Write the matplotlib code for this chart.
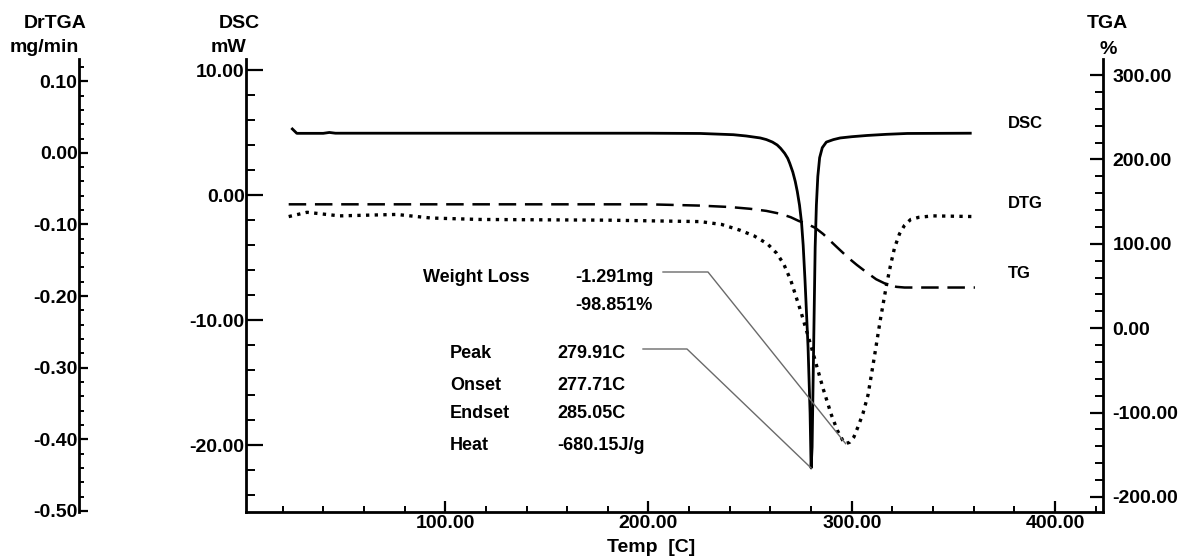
#!/usr/bin/env python3
"""
Curvas de análise térmica (DSC / TG / DTG) com três eixos verticais.
Gera out.png (1181x559).
"""

import matplotlib
matplotlib.use( "Agg" )
import matplotlib.pyplot as plt
from matplotlib.ticker import MultipleLocator, FormatStrFormatter
from matplotlib.lines import Line2D

plt.rcParams[ "font.family" ] = [ "Liberation Sans", "DejaVu Sans" ]
plt.rcParams[ "font.weight" ] = "bold"

# ── Dados ─────────────────────────────────────────────────────────────────
dsc_temp = [ 24.8, 27, 40, 43, 46, 100, 150, 200, 225.5, 241.8, 248, 255, 258, 261, 263.3,
             265, 267, 268.5, 269.5, 271, 272.2, 273.2, 274.3, 275.3, 276.1, 277, 278.5,
             279.5, 280, 280.5, 281, 281.5, 282, 282.6, 283.3, 284.2, 285.5, 287.5, 291,
             294.3, 300, 307.6, 317, 327.3, 358.3 ]
dsc_mw = [ 5.3, 4.95, 4.95, 5.02, 4.96, 4.96, 4.96, 4.96, 4.94, 4.84, 4.74, 4.58, 4.45, 4.25,
           4.02, 3.75, 3.35, 2.95, 2.55, 1.85, 1.1, 0.3, -0.8, -2.2, -4.0, -6.8, -12.16,
           -17.44, -21.84, -20.16, -14.8, -9.44, -4.16, -0.8, 1.5, 3.0, 3.8, 4.25, 4.45,
           4.58, 4.68, 4.78, 4.87, 4.94, 4.96 ]

tg_temp = [ 23, 100, 200, 225, 240, 250, 258, 265, 270, 274, 278, 282, 286, 289, 292.5,
            295.6, 299, 302.5, 307.4, 312, 317.3, 322, 326, 360.6 ]
tg_pct = [ 146.8, 146.8, 146.8, 145.3, 143.6, 141.5, 139.0, 135.5, 131.5, 127.0, 123.5,
           119.0, 111.5, 104.5, 96.5, 89.5, 82.0, 75.0, 66.0, 58.0, 51.8, 49.0, 48.2, 48.2 ]

dtg_temp = [ 23, 32, 48, 76, 93, 117, 180, 225.5, 236, 245, 252, 258.5, 263, 266.5, 270,
             275, 280, 286, 290, 293, 295.5, 297, 299, 301, 303, 305.5, 308, 311, 314,
             317, 319, 321, 323.5, 326, 329, 333, 340, 360.6 ]
dtg_rate = [ -0.089, -0.083, -0.088, -0.086, -0.091, -0.093, -0.094, -0.096, -0.100, -0.108,
             -0.116, -0.127, -0.140, -0.155, -0.178, -0.222, -0.270, -0.330, -0.366, -0.388,
             -0.401, -0.406, -0.404, -0.397, -0.383, -0.364, -0.338, -0.287, -0.234, -0.186,
             -0.158, -0.133, -0.113, -0.101, -0.093, -0.090, -0.088, -0.089 ]

curve_labels = [ "DSC", "DTG", "TG" ]
result_names = [ "Peak", "Onset", "Endset", "Heat" ]
result_values = [ "279.91C", "277.71C", "285.05C", "-680.15J/g" ]
weight_loss = [ "-1.291mg", "-98.851%" ]

# ── Layout (pixels da imagem) ─────────────────────────────────────────────
W, H = 1181, 559
AX_L, AX_R, AX_T, AX_B = 246, 1103, 59, 512
DTG_SPINE_X = 79
FS = 14
FS_NOTE = 13
LEADER = "#6a6a6a"


def fxy( x, y ):
    """pixel (origem no topo) -> fração da figura"""
    return x / W, 1 - y / H


def style_axis( axis, major, minor, length, pad ):
    axis.set_major_locator( MultipleLocator( major ) )
    axis.set_minor_locator( MultipleLocator( minor ) )
    axis.set_major_formatter( FormatStrFormatter( "%.2f" ) )
    axis.set_tick_params( which = "major", direction = "in", length = length[ 0 ], width = 1.6,
                          pad = pad, labelsize = FS )
    axis.set_tick_params( which = "minor", direction = "in", length = length[ 1 ], width = 1.4 )


fig = plt.figure( figsize = (W / 100, H / 100), dpi = 100 )
fig.patch.set_facecolor( "white" )
ax = fig.add_axes( [ AX_L / W, 1 - AX_B / H, (AX_R - AX_L) / W, (AX_B - AX_T) / H ] )
ax_tg = ax.twinx()
ax_dtg = ax.twinx()

# limites
ax.set_xlim( 2.0, 423.6 )
ax.set_ylim( -25.36, 10.9 )
ax_tg.set_ylim( -217.8, 319 )
ax_dtg.set_ylim( -0.5014, 0.131 )

# espinhas
for a in (ax, ax_tg, ax_dtg):
    for s in a.spines.values():
        s.set_visible( False )
        s.set_linewidth( 2.0 )
ax.spines[ "left" ].set_visible( True )
ax.spines[ "bottom" ].set_visible( True )
ax_tg.spines[ "right" ].set_visible( True )
ax_dtg.spines[ "left" ].set_visible( True )
ax_dtg.spines[ "left" ].set_position( ("axes", (DTG_SPINE_X - AX_L) / (AX_R - AX_L)) )
ax_dtg.yaxis.tick_left()
ax_dtg.yaxis.set_label_position( "left" )

style_axis( ax.xaxis, 100, 20, (8, 4.5), 2 )
style_axis( ax.yaxis, 10, 2, (12.5, 6.5), 1 )
style_axis( ax_tg.yaxis, 100, 20, (9.6, 5.5), 7 )
style_axis( ax_dtg.yaxis, 0.1, 0.02, (6.7, 3.6), 1 )

# curvas
ax.plot( dsc_temp, dsc_mw, color = "black", lw = 2.0, solid_joinstyle = "round" )
ax_tg.plot( tg_temp, tg_pct, color = "black", lw = 1.8, linestyle = (0, (7, 3.5)) )
ax_dtg.plot( dtg_temp, dtg_rate, color = "black", lw = 2.4, linestyle = (0, (1, 1.6)) )

# títulos dos eixos
for x, y, t in [ (55, 24, "DrTGA"), (44, 48, "mg/min"), (239, 24, "DSC"), (228, 48, "mW"),
                 (1107, 24, "TGA"), (1108, 49, "%") ]:
    fig.text( *fxy( x, y ), t, ha = "center", va = "center", fontsize = FS )
fig.text( *fxy( 651, 547 ), "Temp  [C]", ha = "center", va = "center", fontsize = FS )

# rótulos das curvas
for y, t in zip( [ 123, 204, 274 ], curve_labels ):
    fig.text( *fxy( 1008, y ), t, ha = "left", va = "center", fontsize = 12 )

# resultados
fig.text( *fxy( 423, 278 ), "Weight Loss", ha = "left", va = "center", fontsize = FS_NOTE )
for y, t in zip( [ 278, 305 ], weight_loss ):
    fig.text( *fxy( 575, y ), t, ha = "left", va = "center", fontsize = FS_NOTE )
for y, n, v in zip( [ 354, 385, 414, 445 ], result_names, result_values ):
    fig.text( *fxy( 450, y ), n, ha = "left", va = "center", fontsize = FS_NOTE )
    fig.text( *fxy( 557, y ), v, ha = "left", va = "center", fontsize = FS_NOTE )

# linhas de chamada: horizontal a partir do texto, diagonal até o ponto
to_fig = fig.transFigure.inverted()
i_dtg = dtg_rate.index( min( dtg_rate ) )
i_dsc = dsc_mw.index( min( dsc_mw ) )
tgt_dtg = to_fig.transform( ax_dtg.transData.transform( (dtg_temp[ i_dtg ], dtg_rate[ i_dtg ]) ) )
tgt_dsc = to_fig.transform( ax.transData.transform( (dsc_temp[ i_dsc ], dsc_mw[ i_dsc ]) ) )

for (x0, x1, y), tgt in [ ((663, 708, 272), tgt_dtg), ((643, 687, 349), tgt_dsc) ]:
    p0, p1 = fxy( x0, y ), fxy( x1, y )
    fig.add_artist( Line2D( [ p0[ 0 ], p1[ 0 ], tgt[ 0 ] ], [ p0[ 1 ], p1[ 1 ], tgt[ 1 ] ],
                            transform = fig.transFigure, color = LEADER, lw = 1.0 ) )

fig.savefig( "out.png", dpi = 100, facecolor = "white" )
